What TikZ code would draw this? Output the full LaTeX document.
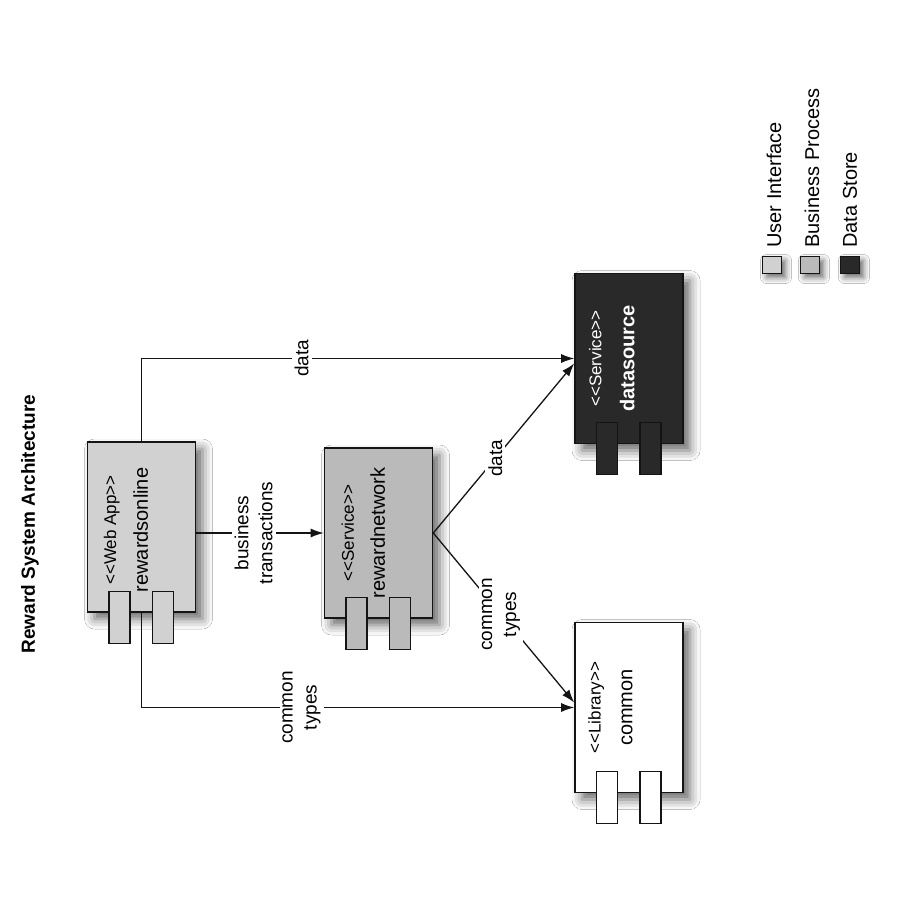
\documentclass[tikz,border=0pt]{standalone}
\usepackage{fontspec}
\setmainfont{Liberation Sans}
\usetikzlibrary{arrows.meta,shadows.blur}

% guillemet-free stereotype brackets
\newcommand{\stin}{<\kern0pt<}
\newcommand{\stout}{>\kern0pt>}

\definecolor{uifill}{gray}{0.82}
\definecolor{bpfill}{gray}{0.73}
\definecolor{dsfill}{gray}{0.16}
\definecolor{edge}{gray}{0.08}

\tikzset{
  comp/.style={draw=edge, line width=1.6pt, minimum width=108pt, minimum height=170pt,
    inner sep=0pt,
    blur shadow={shadow xshift=7pt, shadow yshift=-7pt, shadow blur radius=10pt, shadow opacity=60}},
  port/.style={draw=edge, line width=1.3pt, minimum width=21pt, minimum height=52pt, inner sep=0pt},
  stereo/.style={rotate=90, inner sep=0pt, font=\fontsize{17}{20}\selectfont},
  cname/.style={rotate=90, inner sep=0pt, font=\fontsize{20}{24}\selectfont},
  lbl/.style={fill=white, rotate=90, align=center, inner sep=3pt, font=\fontsize{19}{24}\selectfont},
  arr/.style={draw=edge, line width=1.3pt, -{Latex[length=13pt,width=9pt]}},
  legbox/.style={draw=edge, line width=1.4pt, minimum width=19pt, minimum height=17pt, inner sep=0pt,
    blur shadow={shadow xshift=4pt, shadow yshift=-4pt, shadow blur radius=6pt, shadow opacity=60}},
  legtext/.style={rotate=90, anchor=west, inner sep=0pt, font=\fontsize{20}{22}\selectfont},
  heading/.style={rotate=90, inner sep=0pt, font=\bfseries\fontsize{19}{22}\selectfont},
}

\begin{document}
\begin{tikzpicture}[x=1pt,y=-1pt]
  \useasboundingbox[fill=white] (0,0) rectangle (900,900);

  % title
  \node[heading] (ttl) at (30,524) {Reward System Architecture};

  % components
  \node[comp, fill=uifill] (wa) at (141.5,527) {};
  \node[comp, fill=bpfill] (rn) at (378.5,533) {};
  \node[comp, fill=dsfill] (ds) at (629,358.5) {};
  \node[comp, fill=white]  (cm) at (629,707.5) {};

  % component ports
  \node[port, fill=uifill] (wap1) at ([xshift=-22pt,yshift=-4.5pt]wa.south) {};
  \node[port, fill=uifill] (wap2) at ([xshift=21.5pt,yshift=-4.5pt]wa.south) {};
  \node[port, fill=bpfill] (rnp1) at ([xshift=-22pt,yshift=-4.5pt]rn.south) {};
  \node[port, fill=bpfill] (rnp2) at ([xshift=21.5pt,yshift=-4.5pt]rn.south) {};
  \node[port, fill=dsfill] (dsp1) at ([xshift=-22pt,yshift=-4.5pt]ds.south) {};
  \node[port, fill=dsfill] (dsp2) at ([xshift=21.5pt,yshift=-4.5pt]ds.south) {};
  \node[port, fill=white]  (cmp1) at ([xshift=-22pt,yshift=-4.5pt]cm.south) {};
  \node[port, fill=white]  (cmp2) at ([xshift=21.5pt,yshift=-4.5pt]cm.south) {};

  % component texts
  \node[stereo] (wast) at ([xshift=25pt,yshift=-3pt]wa.west) {\stin Web App\stout};
  \node[cname]  (wanm) at ([xshift=54pt,yshift=-3pt]wa.west) {rewardsonline};
  \node[stereo] (rnst) at ([xshift=24pt]rn.west) {\stin Service\stout};
  \node[cname]  (rnnm) at ([xshift=54pt]rn.west) {rewardnetwork};
  \node[stereo, text=white] (dsst) at ([xshift=21pt]ds.west) {\stin Service\stout};
  \node[cname, text=white, font=\bfseries\fontsize{20}{24}\selectfont] (dsnm) at ([xshift=53pt]ds.west) {datasource};
  \node[stereo] (cmst) at ([xshift=22pt]cm.west) {\stin Library\stout};
  \node[cname]  (cmnm) at ([xshift=53pt]cm.west) {common};

  % connectors
  \draw[arr] (wa.north) |- node[lbl, pos=0.685] {data} (ds.west);
  \draw[arr] (wa.east |- rn.west) -- node[lbl, pos=0.45] {business\\transactions} (rn.west);
  \draw[arr] (rn.east) -- node[lbl, pos=0.44] {data} ([yshift=-5pt]ds.west);
  \draw[arr] (rn.east) -- node[lbl, pos=0.48] {common\\types} ([yshift=5pt]cm.west);
  \draw[arr] (wa.south) |- node[lbl, pos=0.685] {common\\types} (cm.west);

  % legend
  \node[legbox, fill=uifill] (lg1) at (772,265) {};
  \node[legbox, fill=bpfill] (lg2) at (810,265) {};
  \node[legbox, fill=dsfill] (lg3) at (850,265) {};
  \node[legtext] (lgt1) at ([xshift=2pt,yshift=8pt]lg1.north) {User Interface};
  \node[legtext] (lgt2) at ([xshift=2pt,yshift=8pt]lg2.north) {Business Process};
  \node[legtext] (lgt3) at ([xshift=0pt,yshift=8pt]lg3.north) {Data Store};
\end{tikzpicture}
\end{document}
